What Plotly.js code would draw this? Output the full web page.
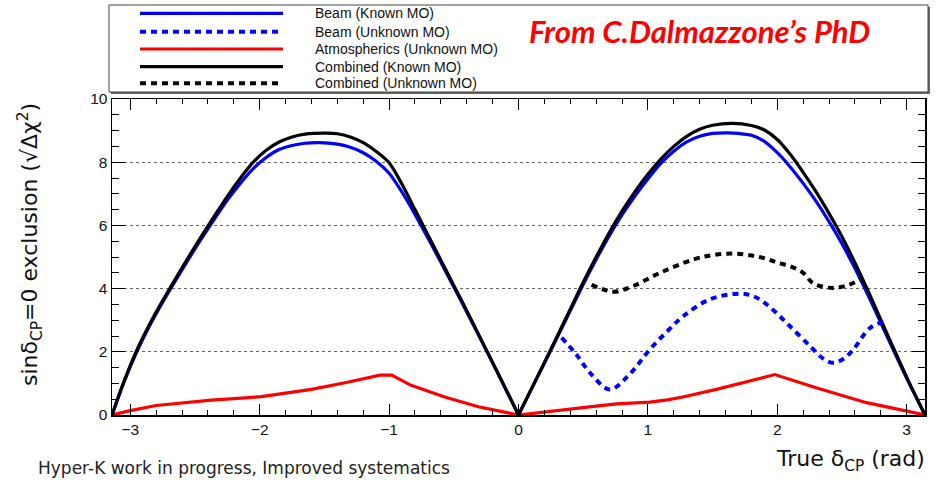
<!DOCTYPE html>
<html>
<head>
<meta charset="utf-8">
<script src="https://cdn.plot.ly/plotly-3.0.1.min.js"></script>
<style>html,body{margin:0;padding:0;background:#fff;}#chart{width:940px;height:480px;}</style>
</head>
<body>
<div id="chart"></div>
<script>
// ---- Data ----
const combKnownX = [-3.1416,-3.05,-2.95,-2.85,-2.75,-2.65,-2.55,-2.45,-2.35,-2.25,-2.15,-2.05,-1.95,-1.85,-1.75,-1.65,-1.49,-1.4,-1.3,-1.2,-1.1,-1.0,-0.9,-0.8,-0.7,-0.6,-0.5,-0.4,-0.3,-0.2,-0.1,0,
  0.1,0.2,0.3,0.4,0.5,0.6,0.7,0.8,0.9,1.0,1.1,1.2,1.3,1.4,1.5,1.655,1.8,1.9,2.0,2.1,2.2,2.3,2.4,2.5,2.6,2.7,2.8,2.9,3.0,3.1416];
const combKnownY = [0,1.05,2.05,2.88,3.62,4.32,5.0,5.66,6.3,6.92,7.49,8.0,8.38,8.64,8.8,8.89,8.92,8.9,8.8,8.62,8.34,7.98,7.3,6.5,5.7,4.9,4.1,3.3,2.48,1.66,0.83,0,
  0.83,1.66,2.5,3.35,4.2,5.0,5.76,6.45,7.07,7.62,8.1,8.5,8.82,9.04,9.17,9.23,9.16,9.02,8.72,8.25,7.68,7.06,6.38,5.64,4.82,3.94,3.02,2.1,1.2,0];

const beamKnownX = [-3.1416,-3.05,-2.95,-2.85,-2.75,-2.65,-2.55,-2.45,-2.35,-2.25,-2.15,-2.05,-1.95,-1.85,-1.75,-1.65,-1.54,-1.4,-1.3,-1.2,-1.1,-1.0,-0.9,-0.8,-0.7,-0.6,-0.5,-0.4,-0.3,-0.2,-0.1,0,
  0.1,0.2,0.3,0.4,0.5,0.6,0.7,0.8,0.9,1.0,1.1,1.2,1.3,1.4,1.5,1.62,1.7,1.8,1.9,2.0,2.1,2.2,2.3,2.4,2.5,2.6,2.7,2.8,2.9,3.0,3.1416];
const beamKnownY = [0,1.03,2.0,2.83,3.57,4.26,4.93,5.58,6.2,6.8,7.33,7.8,8.15,8.4,8.53,8.6,8.62,8.57,8.47,8.3,8.03,7.65,7.05,6.35,5.6,4.83,4.05,3.26,2.46,1.65,0.83,0,
  0.82,1.64,2.46,3.3,4.13,4.92,5.66,6.33,6.93,7.47,7.96,8.35,8.64,8.82,8.91,8.93,8.91,8.85,8.66,8.3,7.85,7.33,6.76,6.12,5.42,4.64,3.8,2.92,2.03,1.16,0];

const beamUnknownX = [0.333,0.45,0.56,0.706,0.85,1.016,1.15,1.274,1.48,1.713,1.82,1.918,2.0,2.098,2.253,2.35,2.433,2.52,2.587,2.716,2.82];
const beamUnknownY = [2.45,1.9,1.3,0.81,1.25,2.08,2.65,3.13,3.66,3.84,3.75,3.5,3.2,2.81,2.18,1.8,1.65,1.8,2.07,2.75,2.95];

const atmX = [-3.1416,-3.0,-2.8,-2.6,-2.374,-2.2,-1.988,-1.8,-1.6,-1.34,-1.07,-0.98,-0.83,-0.57,-0.31,0,0.14,0.39,0.6,0.76,1.016,1.15,1.27,1.53,1.79,1.98,2.3,2.69,3.1416];
const atmY = [0,0.14,0.3,0.39,0.47,0.52,0.58,0.69,0.81,1.02,1.26,1.26,0.94,0.57,0.26,0,0.07,0.18,0.28,0.35,0.41,0.48,0.57,0.81,1.07,1.28,0.86,0.39,0];

const combUnknownX = [0.565,0.65,0.74,0.887,1.093,1.351,1.5,1.66,1.8,1.918,2.0,2.098,2.2,2.28,2.433,2.562,2.64];
const combUnknownY = [4.12,3.98,3.9,4.08,4.5,4.92,5.06,5.11,5.05,4.94,4.82,4.71,4.5,4.16,4.02,4.13,4.3];

const legendNames = ["Beam (Known MO)","Beam (Unknown MO)","Atmospherics (Unknown MO)","Combined (Known MO)","Combined (Unknown MO)"];
const legendColors = ["#0000ff","#0000ff","#ff0000","#000000","#000000"];
const legendDash = ["solid","6px,5px","solid","solid","6px,5px"];
const xTickVals = [-3,-2,-1,0,1,2,3];
const yTickVals = [0,2,4,6,8,10];

// split a series at x = 0 (the cusp) so each lobe can be drawn smoothly
function lobes(xs, ys) {
  const i0 = xs.indexOf(0);
  return [[xs.slice(0, i0 + 1), ys.slice(0, i0 + 1)], [xs.slice(i0), ys.slice(i0)]];
}

const traces = [];
traces.push({x: atmX, y: atmY, mode:'lines', line:{color:'#ff0000', width:3.2}, name: legendNames[2]});
lobes(beamKnownX, beamKnownY).forEach(([x, y]) =>
  traces.push({x, y, mode:'lines', line:{color:'#0000ff', width:3.2, shape:'spline', smoothing:0.8}, name: legendNames[0]}));
lobes(combKnownX, combKnownY).forEach(([x, y]) =>
  traces.push({x, y, mode:'lines', line:{color:'#000000', width:3.2, shape:'spline', smoothing:0.8}, name: legendNames[3]}));
traces.push({x: beamUnknownX, y: beamUnknownY, mode:'lines', line:{color:'#0000ff', width:4, dash:'6px,5px', shape:'spline', smoothing:1}, name: legendNames[1]});
traces.push({x: combUnknownX, y: combUnknownY, mode:'lines', line:{color:'#000000', width:4, dash:'6px,5px', shape:'spline', smoothing:1}, name: legendNames[4]});

// ---- Legend box (drawn manually, ROOT style) ----
const L = 112, W = 813, B = 415, H = 316;
const px = v => (v - L) / W;
const py = v => (B - v) / H;
const rowsY = [13.3, 31.7, 49, 66.7, 83.3];
const shapes = [
  {type:'rect', xref:'paper', yref:'paper', x0:px(111), x1:px(930), y0:py(94), y1:py(7), line:{width:0}, fillcolor:'#666'},
  {type:'rect', xref:'paper', yref:'paper', x0:px(109), x1:px(928), y0:py(92), y1:py(5), line:{color:'#444', width:1}, fillcolor:'#fff'}
];
const annotations = [];
legendNames.forEach((n, i) => {
  shapes.push({type:'line', xref:'paper', yref:'paper', x0:px(140), x1:px(283), y0:py(rowsY[i]), y1:py(rowsY[i]),
    line:{color:legendColors[i], width: legendDash[i]==='solid'?3.2:4, dash:legendDash[i]}});
  annotations.push({xref:'paper', yref:'paper', x:px(313), y:py(rowsY[i]), xanchor:'left', yanchor:'middle', showarrow:false,
    text:n, font:{family:'Liberation Sans, Arial, sans-serif', size:14, color:'#111'}});
});
annotations.push({xref:'paper', yref:'paper', x:px(699), y:py(31), xanchor:'center', yanchor:'middle', showarrow:false,
  text:"<b><i>From C.Dalmazzone’s PhD</i></b>", font:{family:'Lato, Open Sans, sans-serif', size:31, color:'#ff0000'}});
annotations.push({xref:'paper', yref:'paper', x:px(927), y:py(461), xanchor:'right', yanchor:'middle', showarrow:false,
  text:"True δ<sub>CP</sub> (rad)", font:{family:'DejaVu Sans, sans-serif', size:22, color:'#111'}});
annotations.push({xref:'paper', yref:'paper', x:px(36), y:py(468), xanchor:'left', yanchor:'middle', showarrow:false,
  text:"Hyper-K work in progress, Improved systematics", font:{family:'DejaVu Sans, sans-serif', size:17, color:'#222'}});
annotations.push({xref:'paper', yref:'paper', x:px(30), y:py(245), xanchor:'center', yanchor:'middle', showarrow:false, textangle:-90,
  text:"sinδ<sub>CP</sub>=0 exclusion (√Δχ<sup>2</sup>)", font:{family:'DejaVu Sans, sans-serif', size:22, color:'#111'}});

const layout = {
  width:940, height:480,
  margin:{l:112, r:15, t:99, b:65},
  paper_bgcolor:'#fff', plot_bgcolor:'#fff',
  showlegend:false,
  font:{family:'Liberation Sans, Arial, sans-serif', color:'#111'},
  xaxis:{range:[-3.1416,3.1416], tickvals:xTickVals, ticks:'inside', ticklen:11, tickwidth:1, tickcolor:'#000',
    showline:true, linecolor:'#000', linewidth:1.5, mirror:'allticks', showgrid:false, zeroline:false,
    tickfont:{size:15.5, color:'#111'},
    minor:{dtick:0.2, tick0:0, ticks:'inside', ticklen:5, tickcolor:'#000', showgrid:false}},
  yaxis:{range:[0,10], tickvals:yTickVals, ticks:'inside', ticklen:13, tickwidth:1, tickcolor:'#000',
    showline:true, linecolor:'#000', linewidth:1.5, mirror:'allticks', showgrid:true, gridcolor:'#666', griddash:'dot', gridwidth:1,
    zeroline:false, tickfont:{size:15.5, color:'#111'},
    minor:{dtick:0.5, tick0:0, ticks:'inside', ticklen:7, tickcolor:'#000', showgrid:false}},
  shapes: shapes,
  annotations: annotations
};

Plotly.newPlot('chart', traces, layout, {displayModeBar:false, staticPlot:true});
</script>
</body>
</html>
